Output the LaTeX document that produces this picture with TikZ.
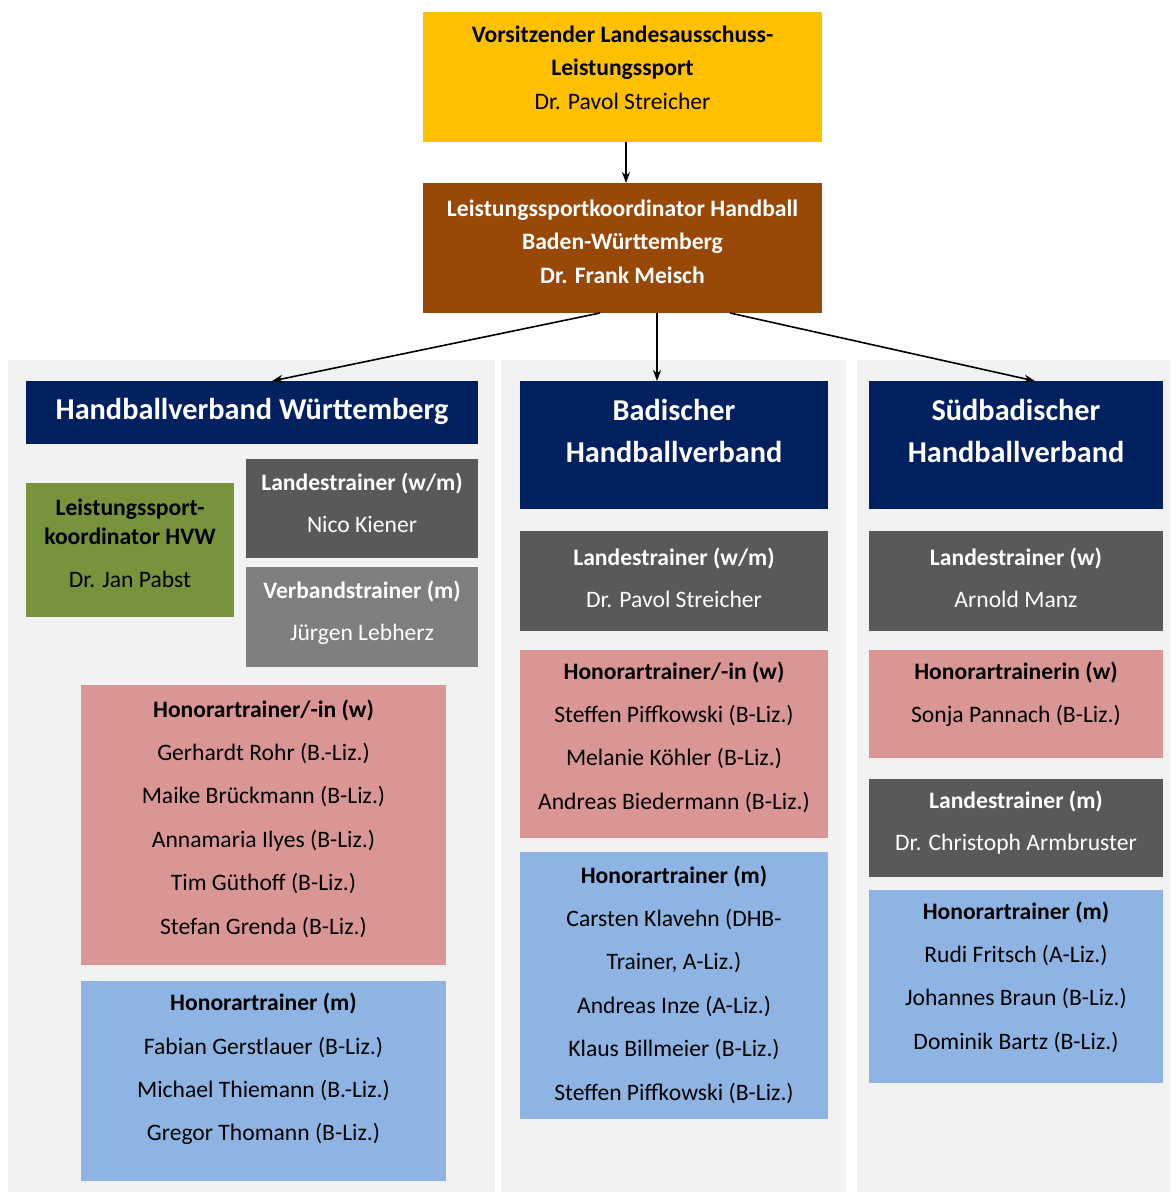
\documentclass[tikz,border=0pt]{standalone}
\usepackage{fontspec}
\setmainfont{Carlito}
\usetikzlibrary{fit,arrows.meta}
\definecolor{cyellow}{HTML}{FFC000}
\definecolor{cbrown}{HTML}{984807}
\definecolor{cnavy}{HTML}{002060}
\definecolor{cgreen}{HTML}{77933C}
\definecolor{cdark}{HTML}{595959}
\definecolor{cmid}{HTML}{7F7F7F}
\definecolor{cpink}{HTML}{D99694}
\definecolor{cblue}{HTML}{8DB4E2}
\definecolor{cpanel}{HTML}{F2F2F2}
\tikzset{
  rbox/.style={inner sep=0pt, outer sep=0pt, draw=none},
  txt/.style={align=center, inner sep=0pt, outer sep=0pt},
  body/.style={txt, font=\fontsize{23.6}{43.4}\selectfont},
  gbody/.style={txt, font=\fontsize{23.6}{42}\selectfont},
  tbody/.style={txt, font=\fontsize{23.6}{33.5}\selectfont},
  head/.style={txt, text=white, font=\fontsize{30.3}{42}\selectfont\bfseries},
  conn/.style={line width=1.6pt, -{Stealth[length=11pt,width=8pt]}}
}
\begin{document}
\begin{tikzpicture}[x=1pt,y=-1pt]
\useasboundingbox (0,0) rectangle (1170,1194);
\fill[white] (0,0) rectangle (1170,1194);
% panels
\node[rbox, fill=cpanel, fit={(8,360)(495,1192)}] (pL) {};
\node[rbox, fill=cpanel, fit={(501,360)(846,1192)}] (pM) {};
\node[rbox, fill=cpanel, fit={(857,360)(1170,1192)}] (pR) {};
% top boxes
\node[rbox, fill=cyellow, fit={(423,12)(822,142)}] (chair) {};
\node[tbody] (tchair) at (622.5,67.5) {\textbf{Vorsitzender Landesausschuss-}\\\textbf{Leistungssport}\\Dr. Pavol Streicher};
\node[rbox, fill=cbrown, fit={(423,183)(822,313)}] (coord) {};
\node[tbody, text=white, font=\fontsize{23.6}{33.5}\selectfont\bfseries] (tcoord) at (622.5,241.5) {Leistungssportkoordinator Handball\\Baden-Württemberg\\Dr. Frank Meisch};
% headers
\node[rbox, fill=cnavy, fit={(26,381)(478,444)}] (hvw) {};
\node[head] (thvw) at (252,411) {Handballverband Württemberg};
\node[rbox, fill=cnavy, fit={(520,381)(828,509)}] (bhv) {};
\node[head] (tbhv) at (674,431) {Badischer\\Handballverband};
\node[rbox, fill=cnavy, fit={(869,381)(1163,509)}] (sbhv) {};
\node[head] (tsbhv) at (1016,431) {Südbadischer\\Handballverband};
% arrows
\draw[conn] ([xshift=3.5pt]chair.south) -- ([xshift=3.5pt]coord.north);
\draw[conn] ([xshift=-22.5pt]coord.south) -- ([xshift=20pt]hvw.north);
\draw[conn] ([xshift=34.5pt]coord.south) -- ([xshift=-17pt]bhv.north);
\draw[conn] ([xshift=107.5pt]coord.south) -- ([xshift=19pt]sbhv.north);
% left column
\node[rbox, fill=cgreen, fit={(26,483)(234,617)}] (green) {};
\node[txt, font=\fontsize{23.6}{29}\selectfont] (tgreen) at (130,543) {\textbf{Leistungssport-}\\\textbf{koordinator HVW}\\[14pt]Dr. Jan Pabst};
\node[rbox, fill=cdark, fit={(246,459)(478,558)}] (lt1) {};
\node[gbody, text=white] (tlt1) at (362,503) {\textbf{Landestrainer (w/m)}\\Nico Kiener};
\node[rbox, fill=cmid, fit={(246,567)(478,667)}] (vt1) {};
\node[gbody, text=white] (tvt1) at (362,613) {\textbf{Verbandstrainer (m)}\\Jürgen Lebherz};
\node[rbox, fill=cpink, fit={(81,685)(446,965)}] (hw1) {};
\node[body] (thw1) at (263.5,818.5) {\textbf{Honorartrainer/-in (w)}\\Gerhardt Rohr (B.-Liz.)\\Maike Brückmann (B-Liz.)\\Annamaria Ilyes (B-Liz.)\\Tim Güthoff (B-Liz.)\\Stefan Grenda (B-Liz.)};
\node[rbox, fill=cblue, fit={(81,981)(446,1181)}] (hm1) {};
\node[body] (thm1) at (263.5,1069) {\textbf{Honorartrainer (m)}\\Fabian Gerstlauer (B-Liz.)\\Michael Thiemann (B.-Liz.)\\Gregor Thomann (B-Liz.)};
% middle column
\node[rbox, fill=cdark, fit={(520,531)(828,631)}] (lt2) {};
\node[gbody, text=white] (tlt2) at (674,578) {\textbf{Landestrainer (w/m)}\\Dr. Pavol Streicher};
\node[rbox, fill=cpink, fit={(520,650)(828,838)}] (hw2) {};
\node[body] (thw2) at (674,737) {\textbf{Honorartrainer/-in (w)}\\Steffen Piffkowski (B-Liz.)\\Melanie Köhler (B-Liz.)\\Andreas Biedermann (B-Liz.)};
\node[rbox, fill=cblue, fit={(520,852)(828,1119)}] (hm2) {};
\node[body] (thm2) at (674,984.5) {\textbf{Honorartrainer (m)}\\Carsten Klavehn (DHB-\\Trainer, A-Liz.)\\Andreas Inze (A-Liz.)\\Klaus Billmeier (B-Liz.)\\Steffen Piffkowski (B-Liz.)};
% right column
\node[rbox, fill=cdark, fit={(869,531)(1163,631)}] (lt3) {};
\node[gbody, text=white] (tlt3) at (1016,578) {\textbf{Landestrainer (w)}\\Arnold Manz};
\node[rbox, fill=cpink, fit={(869,650)(1163,758)}] (hw3) {};
\node[body] (thw3) at (1016,694) {\textbf{Honorartrainerin (w)}\\Sonja Pannach (B-Liz.)};
\node[rbox, fill=cdark, fit={(869,779)(1163,877)}] (lt4) {};
\node[gbody, text=white] (tlt4) at (1016,823) {\textbf{Landestrainer (m)}\\Dr. Christoph Armbruster};
\node[rbox, fill=cblue, fit={(869,890)(1163,1083)}] (hm3) {};
\node[body] (thm3) at (1016,977) {\textbf{Honorartrainer (m)}\\Rudi Fritsch (A-Liz.)\\Johannes Braun (B-Liz.)\\Dominik Bartz (B-Liz.)};
\end{tikzpicture}
\end{document}
